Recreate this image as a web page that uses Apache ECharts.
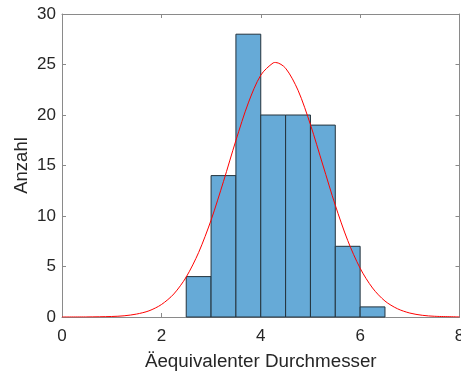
<!DOCTYPE html>
<html>
<head>
<meta charset="utf-8">
<script src="https://cdn.jsdelivr.net/npm/echarts@6/dist/echarts.min.js"></script>
<style>html,body{margin:0;padding:0;background:#fff}#c{width:461px;height:371px}</style>
</head>
<body>
<div id="c"></div>
<script>
// Histogram bins (edges) and counts
const binStarts = [2.5, 3.0, 3.5, 4.0, 4.5, 5.0, 5.5, 6.0];
const binWidth = 0.5;
const counts = [4, 14, 28, 20, 20, 19, 7, 1];
// Fitted curve points
const curveX = [0, 0.5, 1, 1.25, 1.5, 1.75, 2, 2.25, 2.5, 2.75, 3, 3.25, 3.5, 3.75, 4, 4.25, 4.3, 4.5, 4.75, 5, 5.25, 5.5, 5.75, 6, 6.25, 6.5, 6.75, 7, 7.25, 7.5, 8];
const curveY = [0.001, 0.007, 0.05, 0.12, 0.29, 0.61, 1.23, 2.28, 3.96, 6.39, 9.59, 13.42, 17.48, 21.2, 23.94, 25.16, 25.2, 24.63, 22.45, 19.05, 15.05, 11.07, 7.58, 4.83, 2.87, 1.58, 0.82, 0.39, 0.17, 0.07, 0.01];
const xTicks = [0, 2, 4, 6, 8];
const yTicks = [0, 5, 10, 15, 20, 25, 30];

const font = 'Liberation Sans, Arial, sans-serif';
const textColor = '#262626';
const lineColor = '#8a8a8a';

const chart = echarts.init(document.getElementById('c'), null, {renderer: 'canvas'});
const axisCommon = {
  axisLine: {show: true, onZero: false, lineStyle: {color: lineColor, width: 1}},
  axisTick: {show: true, inside: true, length: 4, lineStyle: {color: lineColor}},
  splitLine: {show: false}
};
chart.setOption({
  animation: false,
  grid: {left: 62, right: 1.5, top: 14, bottom: 54, show: false, containLabel: false, outerBoundsMode: 'none'},
  xAxis: [
    Object.assign({}, axisCommon, {
      type: 'value', min: xTicks[0], max: xTicks[xTicks.length - 1], interval: 2,
      name: 'Äequivalenter Durchmesser', nameLocation: 'middle', nameGap: 35,
      nameMoveOverlap: false,
      nameTextStyle: {fontFamily: font, fontSize: 18.8, color: textColor},
      axisLabel: {fontFamily: font, fontSize: 17, color: textColor, margin: 11}
    }),
    Object.assign({}, axisCommon, {
      type: 'value', position: 'top', min: 0, max: 8, interval: 2,
      axisLabel: {show: false}
    })
  ],
  yAxis: [
    Object.assign({}, axisCommon, {
      type: 'value', min: yTicks[0], max: yTicks[yTicks.length - 1], interval: 5,
      name: 'Anzahl', nameLocation: 'middle', nameGap: 31,
      nameMoveOverlap: false,
      nameTextStyle: {fontFamily: font, fontSize: 18.5, color: textColor},
      axisLabel: {fontFamily: font, fontSize: 17, color: textColor, margin: 6}
    }),
    Object.assign({}, axisCommon, {
      type: 'value', position: 'right', min: 0, max: 30, interval: 5,
      axisLabel: {show: false}
    })
  ],
  series: [
    {
      type: 'custom',
      xAxisIndex: 0, yAxisIndex: 0,
      data: binStarts.map((s, i) => [s, s + binWidth, counts[i]]),
      renderItem: function (params, api) {
        const p0 = api.coord([api.value(0), api.value(2)]);
        const p1 = api.coord([api.value(1), 0]);
        return {
          type: 'rect',
          shape: {x: p0[0], y: p0[1], width: p1[0] - p0[0], height: p1[1] - p0[1]},
          style: {fill: '#66aad7', stroke: '#24333d', lineWidth: 1}
        };
      },
      z: 2
    },
    {
      type: 'line',
      xAxisIndex: 0, yAxisIndex: 0,
      data: curveX.map((x, i) => [x, curveY[i]]),
      smooth: 0.3,
      showSymbol: false,
      lineStyle: {color: '#ff0000', width: 1},
      z: 3
    }
  ]
});
</script>
</body>
</html>
